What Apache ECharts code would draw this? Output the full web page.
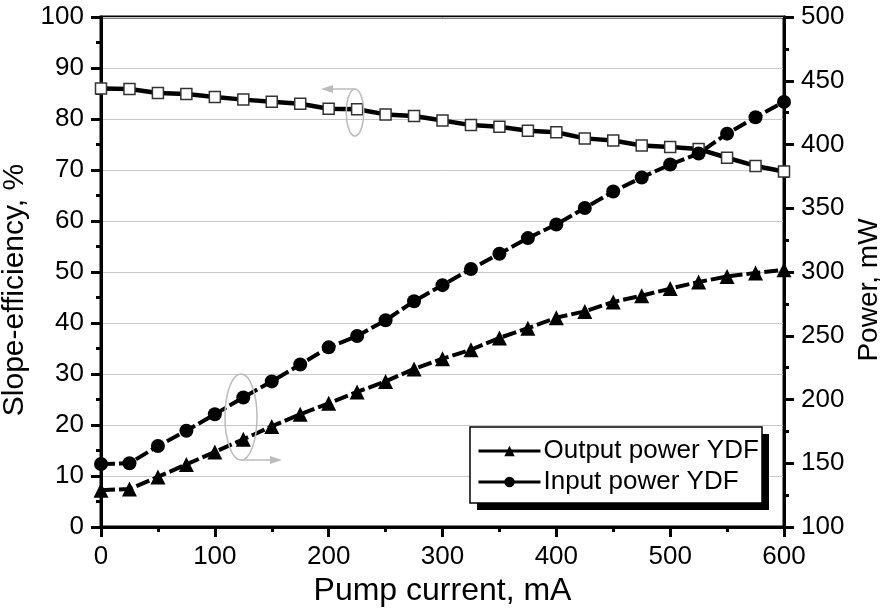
<!DOCTYPE html>
<html><head><meta charset="utf-8">
<script src="https://cdn.jsdelivr.net/npm/echarts@6/dist/echarts.min.js"></script>
<style>html,body{margin:0;padding:0;background:#fff}#c{width:880px;height:613px}</style>
</head><body><div id="c"></div>
<script>
const pumpCurrent = [0,25,50,75,100,125,150,175,200,225,250,275,300,325,350,375,400,425,450,475,500,525,550,575,600];
const slopeEfficiency = [86.0,85.9,85.1,84.9,84.3,83.8,83.4,83.0,82.0,81.9,80.9,80.6,79.7,78.8,78.5,77.7,77.4,76.2,75.8,74.8,74.5,74.1,72.4,70.8,69.7];
const outputPower = [128.9,129.8,139.3,149.1,158.9,168.8,178.9,188.4,197.0,205.9,214.2,224.0,232.0,239.0,248.3,255.9,264.2,269.1,276.5,281.4,287.0,292.2,296.5,299.2,301.7];
const inputPower = [149.4,150.0,163.5,175.5,188.4,201.6,214.2,227.4,240.9,249.8,262.1,277.1,289.7,302.3,314.3,326.6,337.3,350.2,363.1,374.1,384.3,392.9,408.5,421.4,433.4];
const seriesNames = ['Slope-efficiency','Output power YDF','Input power YDF'];
const axisNames = {x:'Pump current, mA', left:'Slope-efficiency, %', right:'Power, mW'};

const pair = (xs, ys) => xs.map((x,i)=>[x, ys[i]]);
const FONT = '"Liberation Sans", Arial, sans-serif';
const axisCommon = {
  axisLine:{show:true, onZero:false, lineStyle:{color:'#000', width:3}},
  axisTick:{show:true, inside:false, length:10, lineStyle:{color:'#000', width:3}},
  minorTick:{show:true, splitNumber:2, length:5, lineStyle:{color:'#000', width:3}},
  axisLabel:{color:'#000', fontSize:26, fontFamily:FONT, margin:17},
  nameTextStyle:{color:'#000', fontFamily:FONT}
};
const chart = echarts.init(document.getElementById('c'), null, {renderer:'canvas'});
chart.setOption({
  animation:false,
  backgroundColor:'#fff',
  grid:{left:101, right:96, top:17, bottom:86, show:true, borderColor:'#000', borderWidth:3,
        backgroundColor:'transparent', containLabel:false, outerBoundsMode:'none'},
  xAxis:Object.assign({}, axisCommon, {
    type:'value', min:0, max:600, interval:100,
    name:axisNames.x, nameLocation:'middle', nameGap:37,
    nameTextStyle:{color:'#000', fontFamily:FONT, fontSize:32},
    splitLine:{show:false}
  }),
  yAxis:[
    Object.assign({}, axisCommon, {
      type:'value', min:0, max:100, interval:10, position:'left',
      name:axisNames.left, nameLocation:'middle', nameGap:63, nameRotate:90,
      nameTextStyle:{color:'#000', fontFamily:FONT, fontSize:30, padding:[0,36,0,0]},
      splitLine:{show:true, lineStyle:{color:'#c8c8c8', width:1}}
    }),
    Object.assign({}, axisCommon, {
      type:'value', min:100, max:500, interval:50, position:'right',
      name:axisNames.right, nameLocation:'middle', nameGap:70, nameRotate:90,
      nameTextStyle:{color:'#000', fontFamily:FONT, fontSize:28, padding:[0,36,0,0]},
      splitLine:{show:false}
    })
  ],
  legend:{
    data:[seriesNames[1], seriesNames[2]], orient:'vertical', left:472, top:433,
    itemWidth:62, itemHeight:13, itemGap:5, z:10,
    lineStyle:{type:'solid', width:3},
    textStyle:{color:'#000', fontSize:26, fontFamily:FONT, padding:[0,0,0,-2]}
  },
  graphic:[
    {type:'rect', z:8, shape:{x:477, y:434, width:292, height:76}, style:{fill:'#000'}},
    {type:'rect', z:9, shape:{x:470, y:427, width:292, height:76}, style:{fill:'#fff', stroke:'#000', lineWidth:1.5}},
    {type:'ellipse', z:9, shape:{cx:355, cy:112.5, rx:8.7, ry:23.5}, style:{fill:'none', stroke:'#bbb', lineWidth:1.5}},
    {type:'line', z:9, shape:{x1:355, y1:89, x2:330, y2:89}, style:{stroke:'#bbb', lineWidth:1.5}},
    {type:'polygon', z:9, shape:{points:[[321,89],[333,85],[333,93]]}, style:{fill:'#bbb'}},
    {type:'ellipse', z:9, shape:{cx:241, cy:417, rx:16, ry:43}, style:{fill:'none', stroke:'#bbb', lineWidth:1.5}},
    {type:'line', z:9, shape:{x1:241, y1:460, x2:272, y2:460}, style:{stroke:'#bbb', lineWidth:1.5}},
    {type:'polygon', z:9, shape:{points:[[282,460],[270,456],[270,464]]}, style:{fill:'#bbb'}}
  ],
  series:[
    {name:seriesNames[0], type:'line', yAxisIndex:0, data:pair(pumpCurrent, slopeEfficiency),
     symbol:'rect', symbolSize:11, showAllSymbol:true,
     itemStyle:{color:'#fff', borderColor:'#333', borderWidth:1.5},
     lineStyle:{color:'#000', width:4.5}},
    {name:seriesNames[1], type:'line', yAxisIndex:1, data:pair(pumpCurrent, outputPower),
     symbol:'triangle', symbolSize:15, showAllSymbol:true,
     itemStyle:{color:'#000'},
     lineStyle:{color:'#000', width:4, type:[14,4]}},
    {name:seriesNames[2], type:'line', yAxisIndex:1, data:pair(pumpCurrent, inputPower),
     symbol:'circle', symbolSize:14, showAllSymbol:true,
     itemStyle:{color:'#000'},
     lineStyle:{color:'#000', width:4, type:[14,4]}}
  ]
});
</script></body></html>
